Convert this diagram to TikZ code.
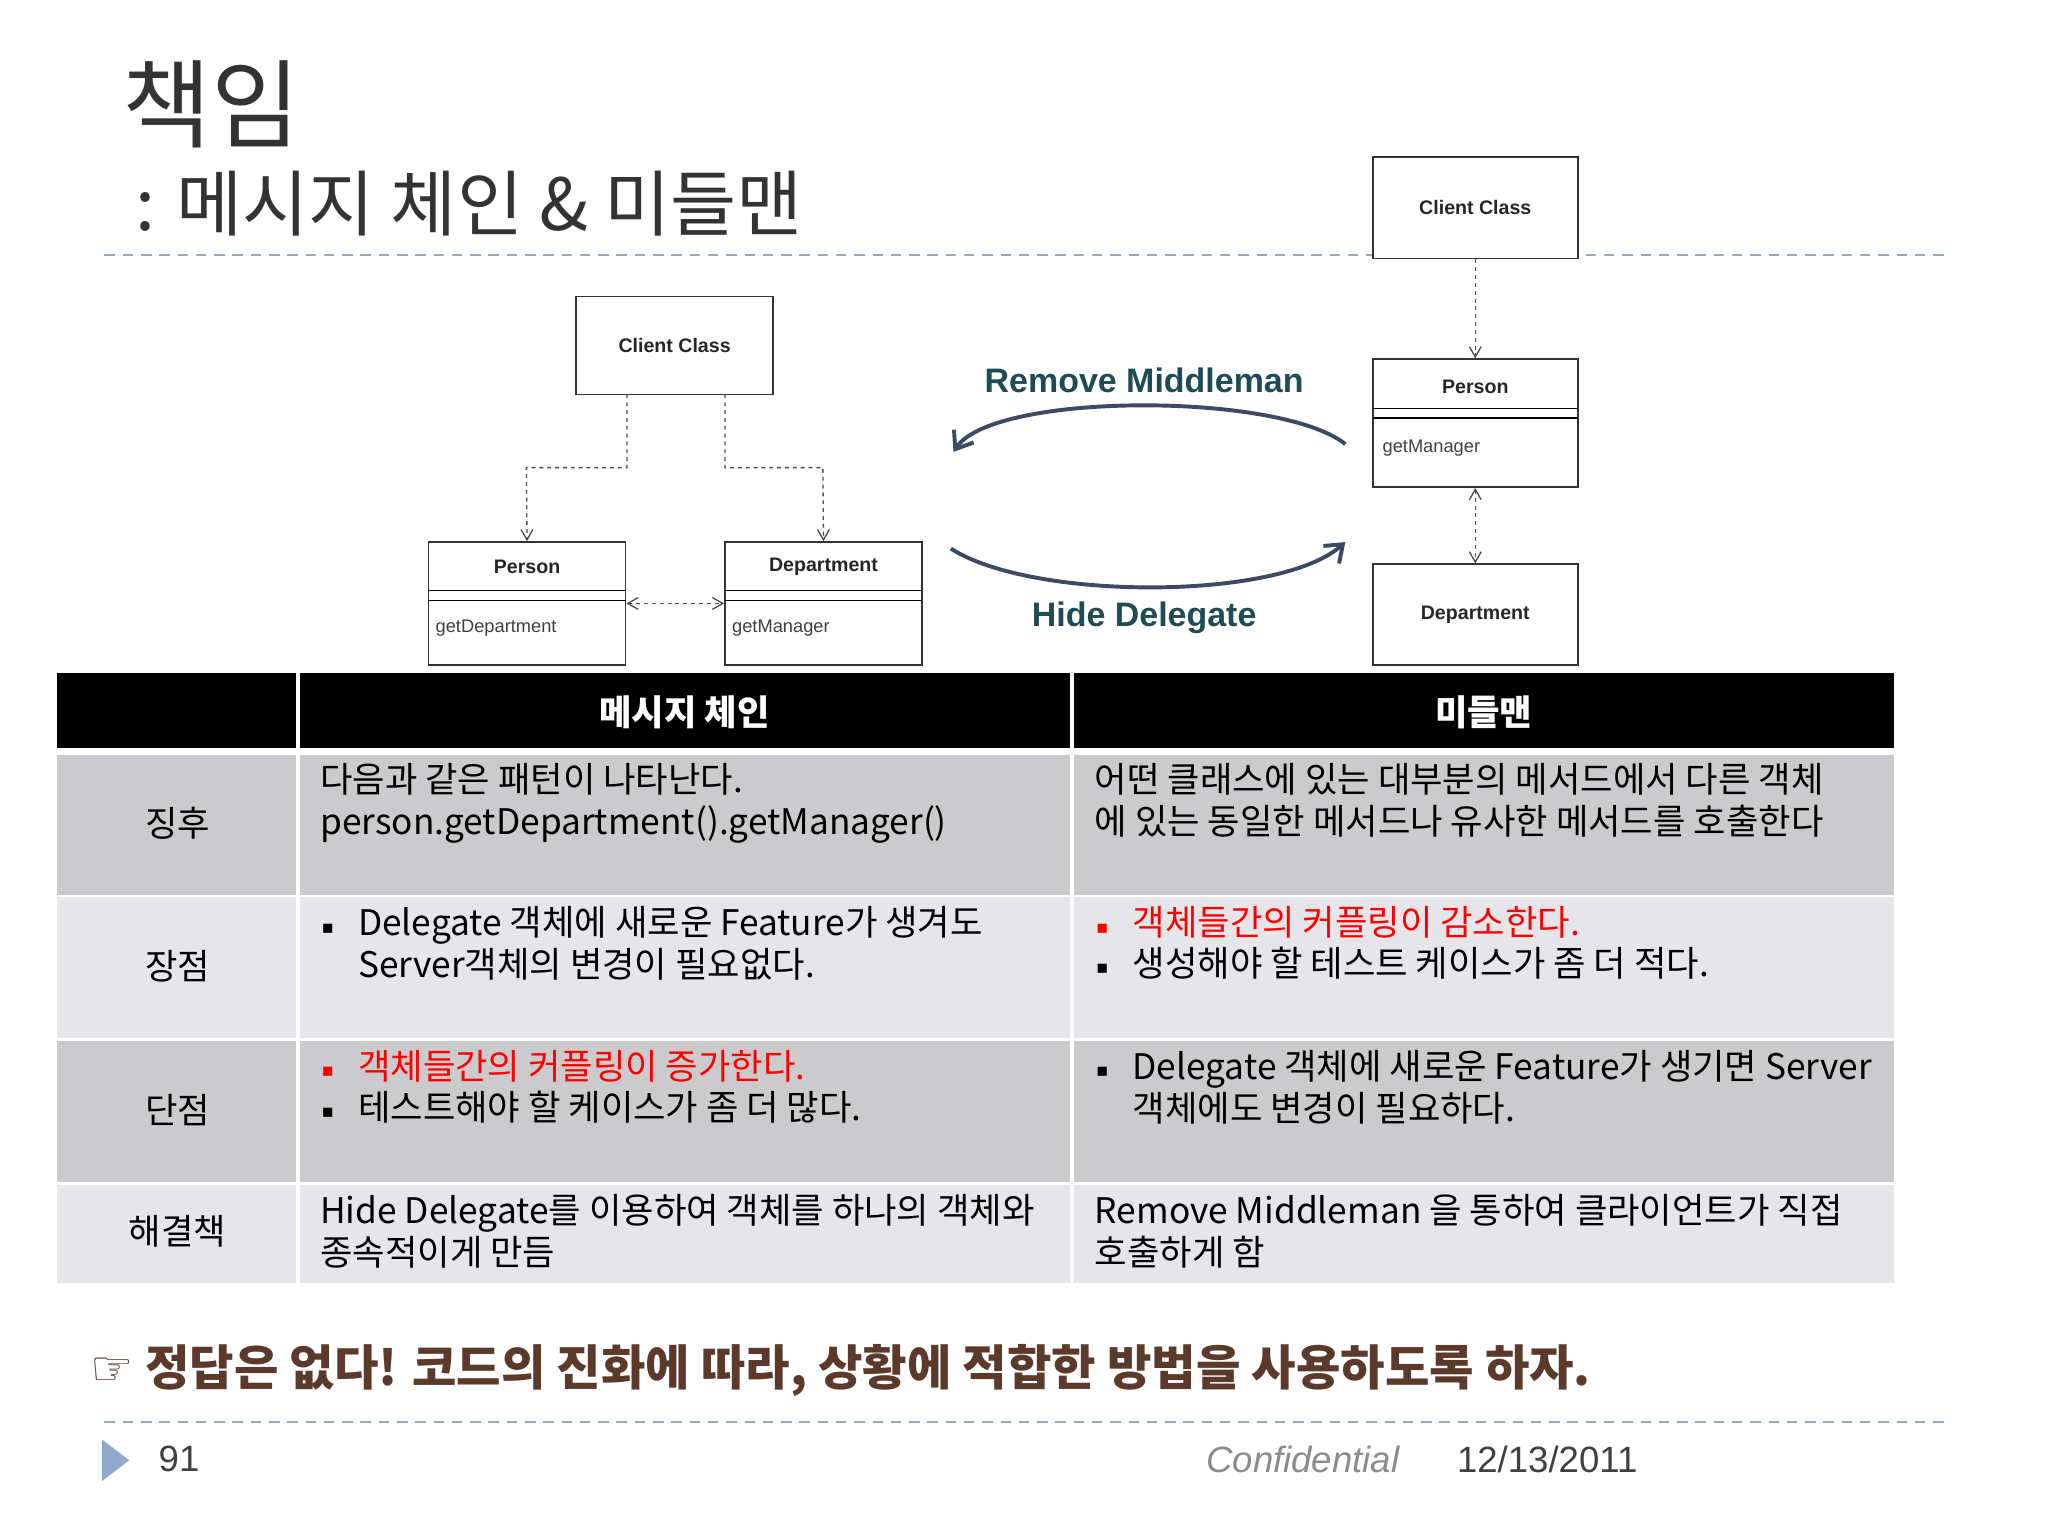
\documentclass[tikz,border=0pt]{standalone}
\usepackage{fontspec}
\setmainfont{Noto Sans CJK KR}
\newfontfamily\dju{DejaVu Sans}
\newfontfamily\lib{Liberation Sans}
\usetikzlibrary{arrows.meta}
\definecolor{rowA}{HTML}{CBCBCD}
\definecolor{rowB}{HTML}{E6E6EA}
\definecolor{teal}{HTML}{1F4B55}
\definecolor{curv}{HTML}{3C4A63}
\definecolor{brn}{HTML}{5B3A2C}
\definecolor{dashc}{HTML}{9AA8BC}
\definecolor{tri}{HTML}{8FAACB}
\tikzset{
 uml/.style={draw=black!80,line width=1.2pt,fill=white},
 lbl/.style={font=\lib\bfseries\fontsize{15}{18}\selectfont,text=black!85},
 meth/.style={font=\lib\fontsize{14}{16}\selectfont,text=black!75,anchor=west},
 dep/.style={dashed,draw=black!70,line width=1pt,-{Straight Barb[length=8pt,width=9pt]}},
 cell/.style={anchor=north west,align=left,font=\fontsize{27}{32}\selectfont,inner sep=0pt},
 hd/.style={font=\bfseries\fontsize{27}{30}\selectfont,text=white},
 rl/.style={font=\fontsize{27}{30}\selectfont},
 bul/.style={font=\dju\fontsize{14}{14}\selectfont},
 arc/.style={draw=curv,line width=3pt,-{Straight Barb[length=12pt,width=18pt]}},
 sep/.style={draw=dashc,line width=1.5pt,dash pattern=on 8pt off 6pt}
}
\begin{document}
\begin{tikzpicture}[x=1pt,y=-1pt]
\fill[white] (0,0) rectangle (1568,1176);
\useasboundingbox (0,0) rectangle (1568,1176);
% title
\node[anchor=west,font=\fontsize{74}{76}\selectfont,text=black!80] (t1) at (90,80) {책임};
\node[anchor=west,font=\fontsize{55}{58}\selectfont,text=black!80] (t2) at (100,156) {: 메시지 체인 \& 미들맨};
\draw[sep] (80,195) -- (1490,195);
% left diagram
\node[uml,minimum width=151,minimum height=75] (lc) at (516.5,264.5) {};
\node[lbl] at (lc) {Client Class};
\node[uml,minimum width=151,minimum height=94] (lp) at (403.5,462) {};
\node[lbl] at (403.5,434) {Person};
\draw[line width=1pt] (328,452)--(479,452) (328,460)--(479,460);
\node[meth] at (330,481) {getDepartment};
\node[uml,minimum width=151,minimum height=94] (ld) at (630.5,462) {};
\node[lbl] at (630.5,434) {Department};
\draw[line width=1pt] (555,452)--(706,452) (555,460)--(706,460);
\node[meth] at (557,481) {getManager};
\draw[dep] (480,302) |- (403,358) -- (lp.north);
\draw[dep] (555,302) |- (630,358) -- (ld.north);
\draw[dep,{Straight Barb[length=8pt,width=9pt]}-{Straight Barb[length=8pt,width=9pt]}] (lp.east|-0,462) -- (ld.west|-0,462);
% right diagram
\node[uml,minimum width=157,minimum height=78] (rc) at (1129.5,159) {};
\node[lbl] at (rc) {Client Class};
\node[uml,minimum width=157,minimum height=98] (rp) at (1129.5,324) {};
\node[lbl] at (1129.5,296) {Person};
\draw[line width=1pt] (1051,313)--(1208,313) (1051,320)--(1208,320);
\node[meth] at (1055,343) {getManager};
\node[uml,minimum width=157,minimum height=77] (rd) at (1129.5,470.5) {};
\node[lbl] at (rd) {Department};
\draw[dep] (rc.south) -- (rp.north);
\draw[dep,{Straight Barb[length=8pt,width=9pt]}-{Straight Barb[length=8pt,width=9pt]}] (rp.south) -- (rd.north);
% curves
\coordinate (a1) at (1030,340); \coordinate (a2) at (730,346);
\coordinate (b1) at (728,420); \coordinate (b2) at (1030,415);
\draw[arc] (a1) .. controls (980,300) and (760,300) .. (a2);
\draw[arc] (b1) .. controls (790,460) and (980,460) .. (b2);
\node[font=\lib\bfseries\fontsize{26}{30}\selectfont,text=teal] (rm) at (876,291) {Remove Middleman};
\node[font=\lib\bfseries\fontsize{26}{30}\selectfont,text=teal] (hdl) at (876,473) {Hide Delegate};
% table
\fill[black] (44,515) rectangle (1450,573);
\fill[rowA] (44,578) rectangle (1450,685);
\fill[rowB] (44,687) rectangle (1450,795);
\fill[rowA] (44,797) rectangle (1450,905);
\fill[rowB] (44,907) rectangle (1450,982);
\draw[white,line width=3pt] (228,515)--(228,982) (821,515)--(821,982);
\node[hd] (h1) at (524,545) {메시지 체인};
\node[hd] (h2) at (1136,545) {미들맨};
\node[rl] (r1) at (136,630) {징후};
\node[rl] (r2) at (136,740) {장점};
\node[rl] (r3) at (136,850) {단점};
\node[rl] (r4) at (136,943) {해결책};
\node[cell] (c11) at (245,584) {다음과 같은 패턴이 나타난다.\\person.getDepartment().getManager()};
\node[cell] (c12) at (838,584) {어떤 클래스에 있는 대부분의 메서드에서 다른 객체\\에 있는 동일한 메서드나 유사한 메서드를 호출한다};
\node[bul] at (251,711) {▪};
\node[cell] (c21) at (274,694) {Delegate 객체에 새로운 Feature가 생겨도\\Server객체의 변경이 필요없다.};
\node[bul,red] at (844,711) {▪};
\node[bul] at (844,742) {▪};
\node[cell,red] (c22a) at (867,694) {객체들간의 커플링이 감소한다.};
\node[cell] (c22b) at (867,725) {생성해야 할 테스트 케이스가 좀 더 적다.};
\node[bul,red] at (251,821) {▪};
\node[bul] at (251,852) {▪};
\node[cell,red] (c31a) at (274,804) {객체들간의 커플링이 증가한다.};
\node[cell] (c31b) at (274,835) {테스트해야 할 케이스가 좀 더 많다.};
\node[bul] at (844,821) {▪};
\node[cell] (c32) at (867,804) {Delegate 객체에 새로운 Feature가 생기면 Server\\객체에도 변경이 필요하다.};
\node[cell] (c41) at (245,914) {Hide Delegate를 이용하여 객체를 하나의 객체와\\종속적이게 만듬};
\node[cell] (c42) at (838,914) {Remove Middleman 을 통하여 클라이언트가 직접\\호출하게 함};
% bottom
\node[anchor=west,text=brn,font=\bfseries\fontsize{37}{40}\selectfont] (ft) at (66,1049) {{\dju\mdseries ☞} 정답은 없다! 코드의 진화에 따라, 상황에 적합한 방법을 사용하도록 하자.};
\draw[sep] (80,1089) -- (1490,1089);
\fill[tri] (78,1102) -- (99,1118) -- (78,1134) -- cycle;
\node[anchor=west,font=\lib\fontsize{28}{30}\selectfont,text=black!75] (pg) at (118,1117) {91};
\node[anchor=west,font=\lib\itshape\fontsize{28}{30}\selectfont,text=black!45] (cf) at (920,1117) {Confidential};
\node[anchor=west,font=\lib\fontsize{28}{30}\selectfont,text=black!75] (dt) at (1112,1117) {12/13/2011};
\end{tikzpicture}
\end{document}
